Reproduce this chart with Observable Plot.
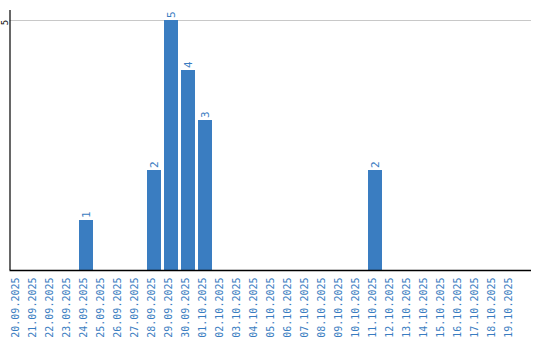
<!DOCTYPE html>
<html>
<head>
<meta charset="utf-8">
<script src="https://cdn.jsdelivr.net/npm/d3@7"></script>
<script src="https://cdn.jsdelivr.net/npm/@observablehq/plot@0.6"></script>
<style>
  html, body { margin: 0; padding: 0; background: #fff; }
  #chart svg { display: block; }
</style>
</head>
<body>
<div id="chart"></div>
<script>
const dates = [
  "20.09.2025","21.09.2025","22.09.2025","23.09.2025","24.09.2025","25.09.2025",
  "26.09.2025","27.09.2025","28.09.2025","29.09.2025","30.09.2025","01.10.2025",
  "02.10.2025","03.10.2025","04.10.2025","05.10.2025","06.10.2025","07.10.2025",
  "08.10.2025","09.10.2025","10.10.2025","11.10.2025","12.10.2025","13.10.2025",
  "14.10.2025","15.10.2025","16.10.2025","17.10.2025","18.10.2025","19.10.2025"
];
const counts = [
  0,0,0,0,1,0,
  0,0,2,5,4,3,
  0,0,0,0,0,0,
  0,0,0,2,0,0,
  0,0,0,0,0,0
];
const yTicks = [5];

const data = dates.map((d, i) => ({date: d, count: counts[i]}));
const nonzero = data.filter(d => d.count > 0);
const blue = "#3a7dc1";

const axisLine = (index, scales, values, dims) => {
  const x = dims.marginLeft + 0.5;
  return d3.create("svg:line")
    .attr("x1", x).attr("x2", x)
    .attr("y1", dims.marginTop).attr("y2", dims.height - dims.marginBottom)
    .attr("stroke", "#000").attr("stroke-width", 1.2).node();
};

const chart = Plot.plot({
  width: 540,
  height: 340,
  marginTop: 10,
  marginBottom: 70,
  marginLeft: 9.5,
  marginRight: 9,
  style: {fontFamily: "DejaVu Sans Mono, monospace", background: "#fff"},
  x: {type: "band", domain: dates, range: [9.5, 519.5], paddingInner: 0.18, paddingOuter: 0.09, axis: null},
  y: {domain: [0, 5.2], axis: null},
  marks: [
    Plot.ruleY(yTicks, {stroke: "#c8c8c8", strokeWidth: 1}),
    Plot.barY(nonzero, {x: "date", y: "count", fill: blue}),
    Plot.text(nonzero, {x: "date", y: "count", text: d => String(d.count), rotate: -90, textAnchor: "start", dy: -2.5, fill: blue, fontSize: 11}),
    Plot.text(dates, {x: d => d, frameAnchor: "bottom", rotate: -90, textAnchor: "end", dy: 7, fill: blue, fontSize: 10}),
    Plot.text(yTicks, {y: d => d, frameAnchor: "left", rotate: -90, textAnchor: "middle", dx: -5, dy: 2, fill: "#000", fontSize: 9}),
    Plot.ruleY([0], {stroke: "#000", strokeWidth: 1.6}),
    axisLine
  ]
});
document.getElementById("chart").append(chart);
</script>
</body>
</html>
